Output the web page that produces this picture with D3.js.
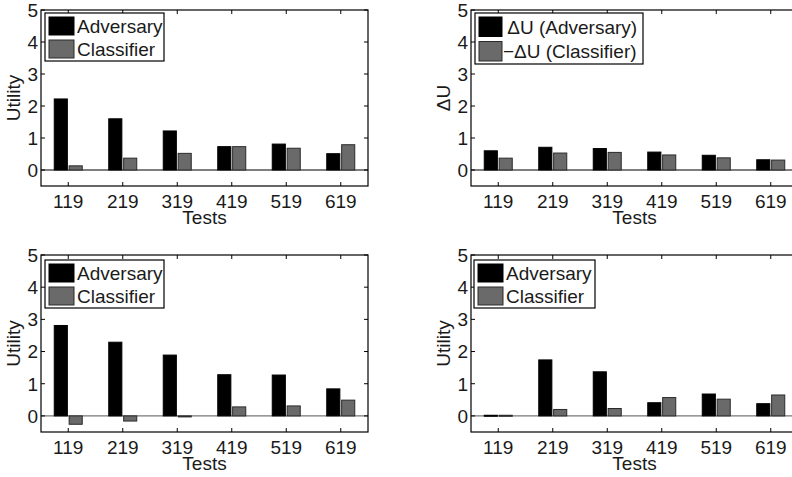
<!DOCTYPE html>
<html>
<head>
<meta charset="utf-8">
<script src="https://cdn.jsdelivr.net/npm/d3@7"></script>
<style>
  body { margin: 0; background: #fff; }
  svg text { font-family: "Liberation Sans", Arial, Helvetica, sans-serif; fill: #1a1a1a; }
</style>
</head>
<body>
<div id="chart"></div>
<script>
// tests on the x axis, shared by all four panels
var tests = ["119", "219", "319", "419", "519", "619"]
var yTicks = [0, 1, 2, 3, 4, 5]

// values
var advA = [2.22, 1.60, 1.22, 0.73, 0.81, 0.51]
var clsA = [0.13, 0.37, 0.52, 0.73, 0.68, 0.79]
var advB = [0.60, 0.71, 0.67, 0.56, 0.46, 0.32]
var clsB = [0.37, 0.53, 0.55, 0.47, 0.38, 0.31]
var advC = [2.81, 2.29, 1.89, 1.28, 1.27, 0.84]
var clsC = [-0.26, -0.16, -0.03, 0.28, 0.31, 0.49]
var advD = [0.02, 1.74, 1.37, 0.41, 0.68, 0.38]
var clsD = [0.02, 0.20, 0.23, 0.57, 0.52, 0.65]

var legendUtil = ["Adversary", "Classifier"]
var legendDelta = [" \u0394U (Adversary)", "\u2212\u0394U (Classifier)"]

var W = 792, H = 477
var svg = d3.select("#chart").append("svg")
    .attr("width", W)
    .attr("height", H)

var colors = ["#000", "#6a6a6a"]
var strokes = ["#000", "#2b2b2b"]

var panels = [
  {left: 41, top: 10, bottom: 186, adv: advA, cls: clsA, ylabel: "Utility", legend: legendUtil, zero: "#000",
   lg: {x: 4, y: 3, w: 119, h: 48, sw: 25, tx: 32}},
  {left: 471, top: 10, bottom: 186, adv: advB, cls: clsB, ylabel: "\u0394U", legend: legendDelta, zero: "#000",
   lg: {x: 4, y: 3, w: 168, h: 51, sw: 23, tx: 28}},
  {left: 41, top: 255, bottom: 432, adv: advC, cls: clsC, ylabel: "Utility", legend: legendUtil, zero: "#777",
   lg: {x: 4, y: 5, w: 119, h: 48, sw: 25, tx: 32}},
  {left: 471, top: 255, bottom: 432, adv: advD, cls: clsD, ylabel: "Utility", legend: legendUtil, zero: "#777",
   lg: {x: 3, y: 5, w: 121, h: 48, sw: 25, tx: 32}}
]

panels.forEach(drawPanel)

function drawPanel(p) {
  var right = p.left + 327
  var x = d3.scaleBand().domain(tests).range([p.left, right])
  var x1 = d3.scaleBand().domain([0, 1]).range([-14, 14]).paddingInner(0.12)
  var y = d3.scaleLinear().domain([-0.5, 5]).range([p.bottom, p.top])

  var g = svg.append("g")

  // zero baseline
  g.append("line")
      .attr("x1", p.left).attr("x2", right)
      .attr("y1", y(0)).attr("y2", y(0))
      .attr("stroke", p.zero)
      .attr("stroke-width", 1.2)

  // bars
  var rows = tests.map((t, i) => ({t: t, v: [p.adv[i], p.cls[i]]}))
  var grp = g.selectAll("g.grp")
    .data(rows)
    .join("g")
      .attr("class", "grp")
      .attr("transform", d => "translate(" + (x(d.t) + x.bandwidth() / 2) + ",0)")
  grp.selectAll("rect")
    .data(d => d.v.map((v, k) => ({v: v, k: k})))
    .join("rect")
      .attr("x", d => x1(d.k))
      .attr("width", x1.bandwidth())
      .attr("y", d => Math.min(y(d.v), y(0)))
      .attr("height", d => Math.max(1, Math.abs(y(d.v) - y(0))))
      .attr("fill", d => colors[d.k])
      .attr("stroke", d => strokes[d.k])
      .attr("stroke-width", 1)

  // frame
  g.append("rect")
      .attr("x", p.left).attr("y", p.top)
      .attr("width", right - p.left).attr("height", p.bottom - p.top)
      .attr("fill", "none")
      .attr("stroke", "#000")
      .attr("stroke-width", 1.2)

  // inward ticks
  var tl = 4
  tests.forEach(t => {
    var cx = x(t) + x.bandwidth() / 2
    g.append("line").attr("x1", cx).attr("x2", cx).attr("y1", p.bottom).attr("y2", p.bottom - tl).attr("stroke", "#000")
    g.append("line").attr("x1", cx).attr("x2", cx).attr("y1", p.top).attr("y2", p.top + tl).attr("stroke", "#000")
  })
  yTicks.forEach(v => {
    g.append("line").attr("x1", p.left).attr("x2", p.left + tl).attr("y1", y(v)).attr("y2", y(v)).attr("stroke", "#000")
    g.append("line").attr("x1", right).attr("x2", right - tl).attr("y1", y(v)).attr("y2", y(v)).attr("stroke", "#000")
  })

  // tick labels
  g.selectAll("text.yt")
    .data(yTicks)
    .join("text")
      .attr("class", "yt")
      .attr("x", p.left - 3)
      .attr("y", d => y(d))
      .attr("dy", "0.36em")
      .attr("text-anchor", "end")
      .attr("font-size", 19)
      .text(d => d)
  g.selectAll("text.xt")
    .data(tests)
    .join("text")
      .attr("class", "xt")
      .attr("x", d => x(d) + x.bandwidth() / 2)
      .attr("y", p.bottom + 22)
      .attr("text-anchor", "middle")
      .attr("font-size", 19)
      .text(d => d)

  // axis titles
  g.append("text")
      .attr("x", (p.left + right) / 2)
      .attr("y", p.bottom + 38)
      .attr("text-anchor", "middle")
      .attr("font-size", 19)
      .text("Tests")
  g.append("text")
      .attr("transform", "translate(" + (p.left - 21) + "," + ((p.top + p.bottom) / 2) + ") rotate(-90)")
      .attr("text-anchor", "middle")
      .attr("font-size", 19)
      .text(p.ylabel)

  // legend
  var lg = p.lg
  var leg = g.append("g").attr("transform", "translate(" + (p.left + lg.x) + "," + (p.top + lg.y) + ")")
  leg.append("rect")
      .attr("width", lg.w).attr("height", lg.h)
      .attr("fill", "#fff")
      .attr("stroke", "#000")
      .attr("stroke-width", 1.2)
  var rowH = lg.h / 2
  p.legend.forEach((name, k) => {
    leg.append("rect")
        .attr("x", 4).attr("y", 4 + k * (rowH - 1))
        .attr("width", lg.sw).attr("height", rowH - 6)
        .attr("fill", colors[k])
        .attr("stroke", strokes[k])
    leg.append("text")
        .attr("x", lg.tx)
        .attr("y", 4 + k * (rowH - 1) + (rowH - 6) / 2)
        .attr("dy", "0.36em")
        .attr("font-size", 19)
        .style("white-space", "pre")
        .text(name)
  })
}
</script>
</body>
</html>
